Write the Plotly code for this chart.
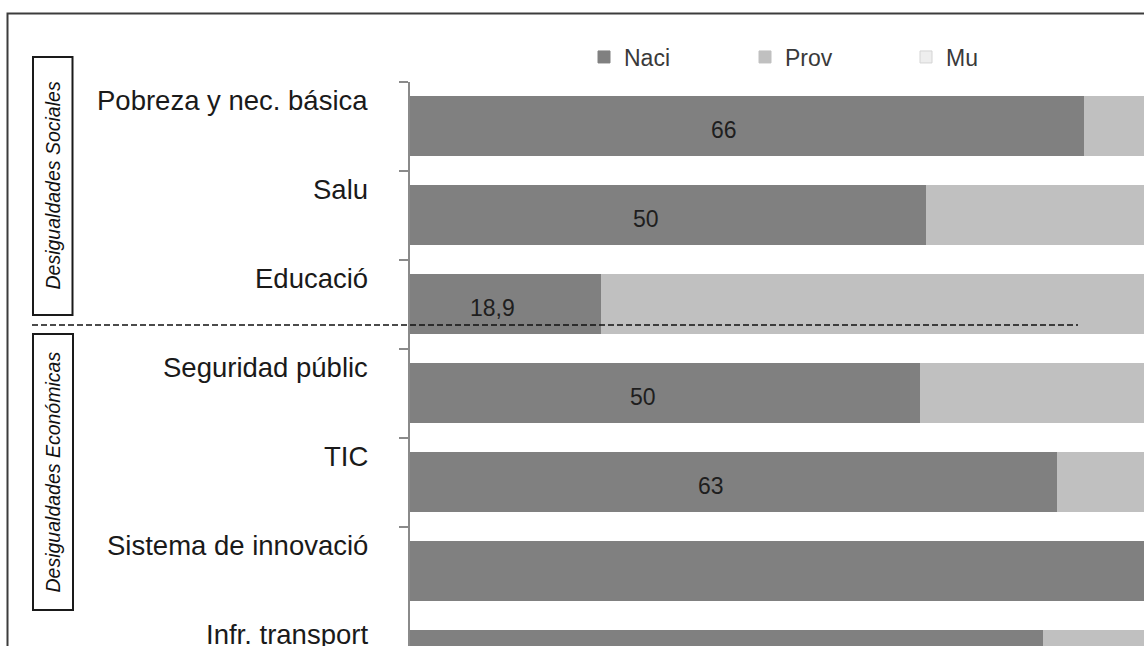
import plotly.graph_objects as go

# ---- data ----
categories = ["Pobreza y nec. básica", "Salu", "Educació", "Seguridad públic",
              "TIC", "Sistema de innovació", "Infr. transport"]
series_names = ["Naci", "Prov", "Mu"]
nacional = [66.4, 50.9, 18.9, 50.3, 63.8, 93.2, 62.4]
provincial = [21.5, 38.2, 72.4, 35.6, 27.3, 5.4, 28.0]
municipal = [12.1, 10.9, 8.7, 14.1, 8.9, 1.4, 9.6]
value_labels = ["66", "50", "18,9", "50", "63", "", "62"]
group_labels = ["Desigualdades Sociales", "Desigualdades Económicas"]

# ---- layout geometry ----
W, H = 1144, 646
ML, MT, MR, MB = 410, 82, 0, 0
PW, PH = W - ML - MR, H - MT - MB
FONT = "Liberation Sans, Arial, sans-serif"


def px(xp):
    return (xp - ML) / PW


def py(yp):
    return 1 - (yp - MT) / PH


colors = ["#808080", "#c0c0c0", "#eeeeee"]
line_cols = ["#808080", "#c0c0c0", "#d4d4d4"]
fig = go.Figure()
for name, vals, col, lc in zip(series_names, [nacional, provincial, municipal], colors, line_cols):
    fig.add_trace(go.Bar(
        y=categories, x=vals, name=name, orientation="h",
        marker=dict(color=col, line=dict(width=1, color=lc)),
        width=0.67, hoverinfo="skip",
    ))

annotations = []
# category labels (placed just below each upper category boundary)
for i, c in enumerate(categories):
    annotations.append(dict(
        xref="paper", yref="y", x=0, y=i - 0.5, xanchor="right", yanchor="middle",
        xshift=-40, yshift=-18, text=c, showarrow=False,
        font=dict(family=FONT, size=27.5, color="#1a1a1a"),
    ))
# value labels inside the Nacional segments
for i, (v, lab) in enumerate(zip(nacional, value_labels)):
    if lab:
        annotations.append(dict(
            xref="x", yref="y", x=v / 2, y=i, xanchor="left", yanchor="middle",
            xshift=-38, yshift=-3, text=lab, showarrow=False,
            font=dict(family=FONT, size=23, color="#1e1e1e"),
        ))
# group labels
for lab, yc in zip(group_labels, [186, 472]):
    annotations.append(dict(
        xref="paper", yref="paper", x=px(52.5), y=py(yc), xanchor="center", yanchor="middle",
        text="<i>" + lab + "</i>", textangle=-90, showarrow=False,
        font=dict(family=FONT, size=19.5, color="#111111"),
    ))

shapes = [
    # outer frame
    dict(type="rect", xref="paper", yref="paper", x0=px(7.5), y0=py(13.5), x1=px(1170), y1=py(680),
         line=dict(color="#3c3c3c", width=2), layer="above"),
    # group boxes
    dict(type="rect", xref="paper", yref="paper", x0=px(33), y0=py(57), x1=px(72.5), y1=py(315),
         line=dict(color="#1a1a1a", width=2)),
    dict(type="rect", xref="paper", yref="paper", x0=px(33), y0=py(334), x1=px(73), y1=py(610),
         line=dict(color="#1a1a1a", width=2)),
    # dashed separator
    dict(type="line", xref="paper", yref="paper", x0=px(32), y0=py(325), x1=px(1078), y1=py(325),
         line=dict(color="#111111", width=1.5, dash="6px,3px"), layer="above"),
]

fig.update_layout(
    width=W, height=H,
    margin=dict(l=ML, r=MR, t=MT, b=MB, pad=0),
    barmode="stack", bargap=0,
    paper_bgcolor="white", plot_bgcolor="white",
    font=dict(family=FONT),
    showlegend=True,
    legend=dict(orientation="h", x=px(584), xanchor="left", y=py(57), yanchor="middle",
                font=dict(family=FONT, size=23, color="#3a3a3a"),
                entrywidth=116, entrywidthmode="pixels", bgcolor="rgba(0,0,0,0)",
                traceorder="normal", itemclick=False),
    xaxis=dict(range=[0, PW / 10.16], showgrid=False, zeroline=False, showline=False,
               showticklabels=False, ticks="", fixedrange=True),
    yaxis=dict(categoryorder="array", categoryarray=categories,
               range=[-0.5 + PH / 89.0, -0.5], showgrid=False, zeroline=False,
               showline=True, linecolor="#8a8a8a", linewidth=1.5,
               ticks="outside", ticklen=9, tickcolor="#8a8a8a", tickwidth=1.5,
               tickson="boundaries", showticklabels=False, fixedrange=True),
    annotations=annotations,
    shapes=shapes,
)

fig.write_html("out.html")
